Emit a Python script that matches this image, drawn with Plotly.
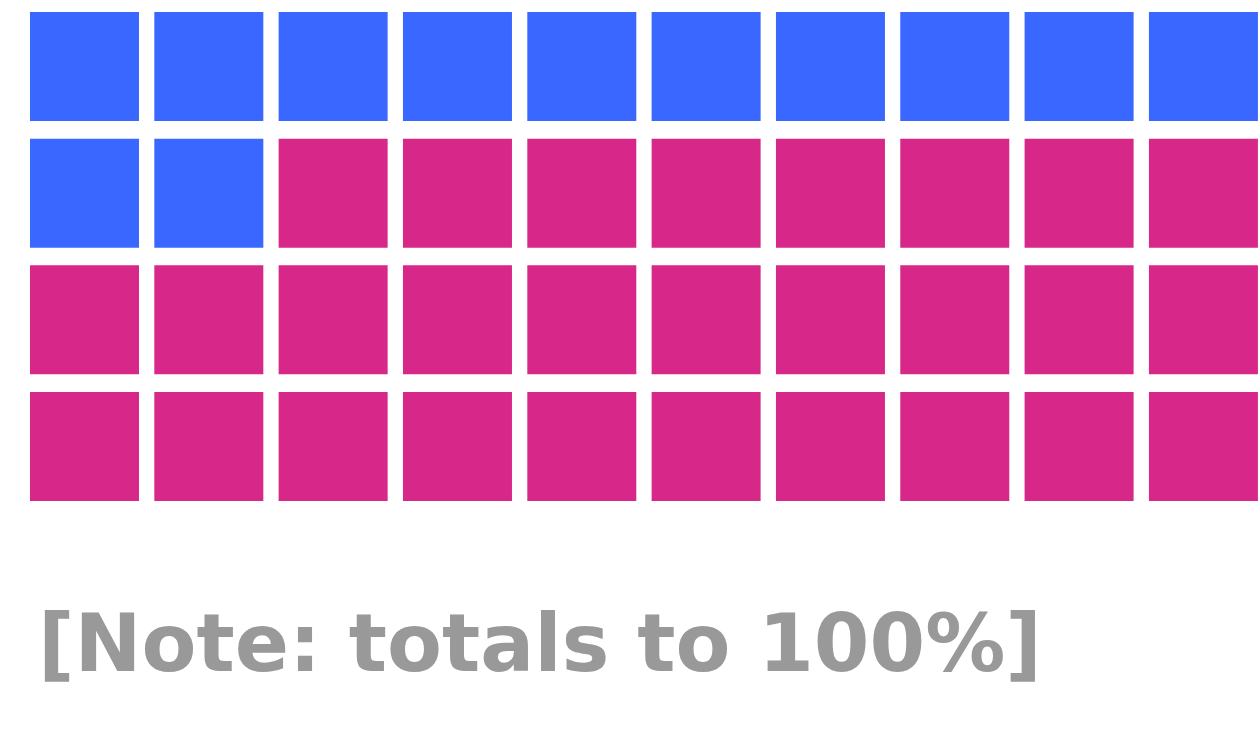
import plotly.graph_objects as go

# Data
categories = ["Group A", "Group B"]
counts = [12, 28]  # squares out of 40 (totals to 100%)
colors = ["#3A67FF", "#D7288A"]
n_cols = 10
n_rows = 4
note_text = "[Note: totals to 100%]"

fig = go.Figure()
idx = 0
for cat, cnt, col in zip(categories, counts, colors):
    xs, ys = [], []
    for k in range(cnt):
        i = idx + k
        xs.append(i % n_cols)
        ys.append(i // n_cols)
    idx += cnt
    fig.add_trace(go.Scatter(
        x=xs, y=ys, mode="markers", name=cat,
        marker=dict(symbol="square", size=109, color=col, line=dict(width=0)),
        hoverinfo="name",
    ))

fig.add_annotation(
    text=note_text, xref="paper", yref="paper",
    x=36 / 1259, y=1 - 643 / 749, xanchor="left", yanchor="middle",
    showarrow=False,
    font=dict(family="DejaVu Sans", size=80, color="#999999", weight="bold"),
)

fig.update_layout(
    width=1259, height=749,
    margin=dict(l=0, r=0, t=0, b=0),
    paper_bgcolor="white", plot_bgcolor="white",
    showlegend=False,
    xaxis=dict(range=[-0.6796, 9.447], visible=False, fixedrange=True),
    yaxis=dict(range=[5.388, -0.525], visible=False, fixedrange=True),
)

fig.write_html("out.html")
